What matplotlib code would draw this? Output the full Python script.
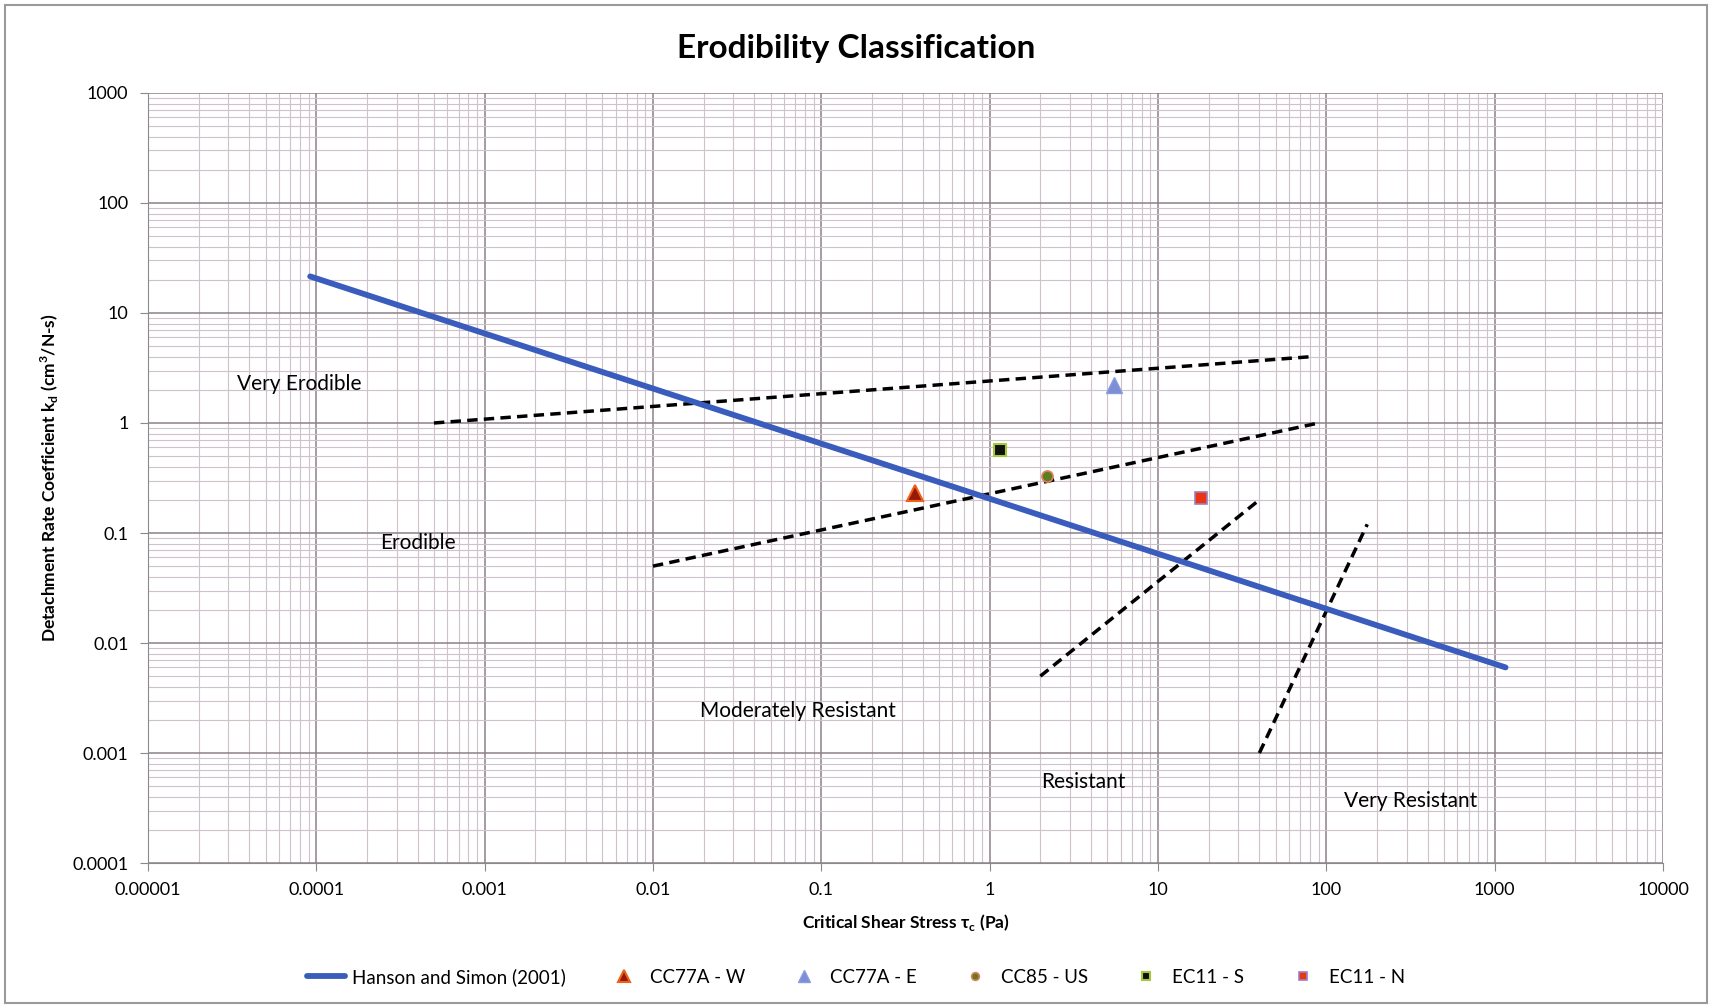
import matplotlib
matplotlib.use('Agg')
import matplotlib.pyplot as plt
from matplotlib import ticker
from matplotlib.patches import Rectangle

# Hanson and Simon (2001) line end points
hs_tau = [9.2e-5, 1160]
hs_kd = [21.5, 0.006]

# class boundary lines (dashed)
bounds_tau = [[0.0005, 80], [0.01, 90], [2, 40], [40, 175]]
bounds_kd = [[1.0, 4.0], [0.05, 1.0], [0.005, 0.2], [0.001, 0.12]]

# measured samples
sample_names = ['CC77A - W', 'CC77A - E', 'CC85 - US', 'EC11 - S', 'EC11 - N']
sample_tau = [0.36, 5.5, 2.2, 1.15, 18.0]
sample_kd = [0.23, 2.2, 0.33, 0.57, 0.21]

# region labels
region_names = ['Very Erodible', 'Erodible', 'Moderately Resistant', 'Resistant', 'Very Resistant']
region_tau = [7.9e-5, 4.0e-4, 0.073, 3.6, 318]
region_kd = [2.28, 0.081, 0.0024, 5.4e-4, 3.67e-4]

xticks = [1e-5, 1e-4, 1e-3, 1e-2, 1e-1, 1, 10, 100, 1000, 10000]
xlabels = ['0.00001', '0.0001', '0.001', '0.01', '0.1', '1', '10', '100', '1000', '10000']
yticks = [1e-4, 1e-3, 1e-2, 1e-1, 1, 10, 100, 1000]
ylabels = ['0.0001', '0.001', '0.01', '0.1', '1', '10', '100', '1000']

plt.rcParams['font.family'] = ['Lato', 'DejaVu Sans']
plt.rcParams['mathtext.fontset'] = 'custom'
plt.rcParams['mathtext.rm'] = 'Lato'
plt.rcParams['mathtext.bf'] = 'Lato:bold'

fig = plt.figure(figsize=(17.12, 10.06), dpi=100)
ax = fig.add_axes([0.0864, 0.1421, 0.885, 0.7655])
fig.patches.append(Rectangle((0.003, 0.003), 0.994, 0.992, transform=fig.transFigure,
                             fill=False, edgecolor='#9a9a9a', linewidth=1.5))

ax.set_xscale('log')
ax.set_yscale('log')
ax.set_xlim(1e-5, 1e4)
ax.set_ylim(1e-4, 1e3)

ax.set_xticks(xticks)
ax.set_xticklabels(xlabels)
ax.set_yticks(yticks)
ax.set_yticklabels(ylabels)
ax.xaxis.set_minor_locator(ticker.LogLocator(base=10, subs=range(2, 10), numticks=100))
ax.yaxis.set_minor_locator(ticker.LogLocator(base=10, subs=range(2, 10), numticks=100))
ax.xaxis.set_minor_formatter(ticker.NullFormatter())
ax.yaxis.set_minor_formatter(ticker.NullFormatter())

# grid
ax.grid(True, which='major', color='#8e7e8a', linewidth=1.1)
ax.grid(True, which='minor', color='#d0c2cc', linewidth=0.8)
ax.set_axisbelow(True)

# boundaries
for t, k in zip(bounds_tau, bounds_kd):
    ax.plot(t, k, color='black', linewidth=2.5, dashes=(3, 1.8))

ax.plot(hs_tau, hs_kd, color='#3a5cbc', linewidth=4.2, solid_capstyle='round',
        label='Hanson and Simon (2001)')

styles = [
    dict(marker='^', markersize=12, markerfacecolor='#961a08', markeredgecolor='#f0601a', markeredgewidth=1.5),
    dict(marker='^', markersize=12, markerfacecolor='#7b8ed6', markeredgecolor='#8a9ce0', markeredgewidth=1),
    dict(marker='o', markersize=8, markerfacecolor='#5e7d1e', markeredgecolor='#e08060', markeredgewidth=1.2),
    dict(marker='s', markersize=8, markerfacecolor='#111111', markeredgecolor='#a8c83c', markeredgewidth=1.5),
    dict(marker='s', markersize=8, markerfacecolor='#ee3312', markeredgecolor='#9a80c0', markeredgewidth=1.2),
]
for name, t, k, st in zip(sample_names, sample_tau, sample_kd, styles):
    ax.plot([t], [k], linestyle='none', label=name, **st)

for name, t, k in zip(region_names, region_tau, region_kd):
    ax.text(t, k, name, ha='center', va='center', fontsize=15)

ax.tick_params(which='major', labelsize=13, length=6, color='#8a8a8a', pad=8)
ax.tick_params(which='minor', length=0)
for side in ['top', 'right']:
    ax.spines[side].set_visible(False)
for side in ['left', 'bottom']:
    ax.spines[side].set_color('#8a8a8a')

ax.set_xlabel('Critical Shear Stress τ$_\\mathbf{c}$ (Pa)', fontsize=12.5, fontweight='bold', labelpad=10)
ax.set_ylabel('Detachment Rate Coefficient k$_\\mathbf{d}$ (cm$^\\mathbf{3}$/N-s)', fontsize=12.5,
              fontweight='bold', labelpad=8)
fig.text(0.5, 0.952, 'Erodibility Classification', ha='center', va='center',
         fontsize=24, fontweight='bold')

handles, labels = ax.get_legend_handles_labels()
fig.legend(handles, labels, loc='center', bbox_to_anchor=(0.5, 0.029), ncol=6, frameon=False,
           fontsize=13.5, columnspacing=2.1, handlelength=2.0, handletextpad=0.4, markerscale=0.7)

fig.savefig('out.png', dpi=100)
